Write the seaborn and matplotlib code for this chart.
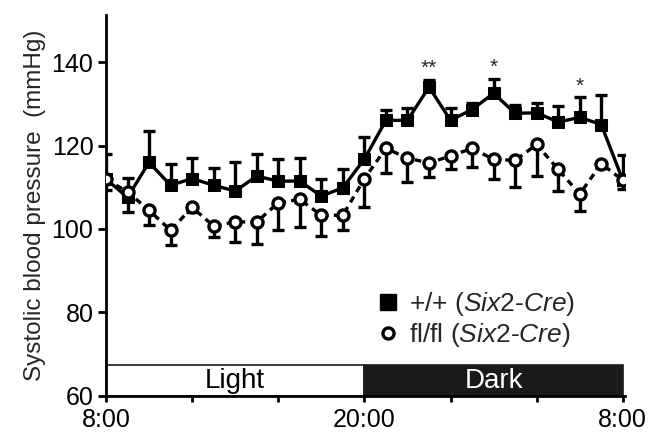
import numpy as np
import pandas as pd
import matplotlib
matplotlib.use("Agg")
import matplotlib.pyplot as plt
from matplotlib.patches import Rectangle
from matplotlib.lines import Line2D
import seaborn as sns

# ---- data ----
hours = list(range(25))
wt_mean = [112, 107.6, 116, 110.5, 112.1, 110.5, 109.1, 112.7, 111.5, 111.5, 107.9, 109.9,
           116.8, 126.1, 126.1, 134.1, 126.1, 128.7, 132.6, 127.8, 127.9, 125.7, 126.8, 125.1, 111.7]
wt_err = [6, 4.7, 7.5, 5, 5, 4.2, 7, 5.4, 5.2, 5.5, 4.2, 4.6,
          5.2, 2.6, 2.9, 1.6, 3, 1.6, 3.4, 2.1, 2.3, 3.8, 4.8, 7.2, 6]
ko_mean = [112, 108.9, 104.5, 99.7, 105.2, 100.7, 101.7, 101.7, 106.3, 107.1, 103.3, 103.3,
           112.1, 119.4, 117, 115.9, 117.5, 119.4, 116.7, 116.5, 120.3, 114.3, 108.4, 115.7, 111.7]
ko_err = [2.7, 4.8, 3.5, 3.6, 1, 2.6, 4.8, 5.2, 6.6, 6.6, 5, 3.6,
          6.8, 5.9, 5.7, 3.4, 3.2, 4.5, 4.8, 6.4, 7.6, 5.2, 4, 1, 2.2]
sig_hours = [15, 18, 22]
sig_labels = ["**", "*", "*"]
periods = ["Light", "Dark"]
period_start = [0, 12]
period_end = [12, 24]
xtick_major = [0, 12, 24]
xtick_labels = ["8:00", "20:00", "8:00"]
xtick_minor = [4, 8, 16, 20]
yticks = [60, 80, 100, 120, 140]

df = pd.DataFrame({"hour": hours, "wt": wt_mean, "ko": ko_mean})

sns.set_style("ticks")
plt.rcParams["font.family"] = ["Liberation Sans", "DejaVu Sans"]
plt.rcParams["mathtext.fontset"] = "custom"
plt.rcParams["mathtext.rm"] = "Liberation Sans"
plt.rcParams["mathtext.it"] = "Liberation Sans:italic"

fig = plt.figure(figsize=(6.51, 4.34), dpi=100)
ax = fig.add_axes([0.1628, 0.0887, 0.7972, 0.8767])

FS_TICK = 18
FS_LAB = 17.5
FS_LEG = 19
FS_BAND = 20

# error bars (one-sided)
zeros = np.zeros(len(hours))
ax.errorbar(hours, wt_mean, yerr=[zeros, wt_err], fmt="none", ecolor="black",
            elinewidth=2.4, capsize=4, capthick=2.4, zorder=2)
ax.errorbar(hours, ko_mean, yerr=[ko_err, zeros], fmt="none", ecolor="black",
            elinewidth=2.4, capsize=4, capthick=2.4, zorder=2)

sns.lineplot(data=df, x="hour", y="wt", ax=ax, color="black", linewidth=2.4,
             marker="s", markersize=9, markerfacecolor="black", markeredgecolor="black",
             zorder=3)
sns.lineplot(data=df, x="hour", y="ko", ax=ax, color="black", linewidth=2.4,
             linestyle=(0, (2.0, 1.6)), marker="o", markersize=8, markerfacecolor="white",
             markeredgecolor="black", markeredgewidth=2.4, zorder=4)

# significance stars
for h, lab in zip(sig_hours, sig_labels):
    ax.text(h, wt_mean[h] + wt_err[h] + 0.5, lab, ha="center", va="bottom", fontsize=15)

# light / dark bar
band_top = 67.4
for name, s, e in zip(periods, period_start, period_end):
    fc = "white" if name == "Light" else "#1a1a1a"
    tc = "black" if name == "Light" else "white"
    ax.add_patch(Rectangle((s, 60), e - s, band_top - 60, facecolor=fc,
                           edgecolor="#1a1a1a", linewidth=1.2, zorder=1, clip_on=False))
    ax.text((s + e) / 2, (60 + band_top) / 2 - 0.2, name, ha="center", va="center",
            fontsize=FS_BAND, color=tc, zorder=2)

ax.set_xlim(0, 24.1)
ax.set_ylim(60, 151.4)
ax.set_xticks(xtick_major)
ax.set_xticklabels(xtick_labels, fontsize=FS_TICK)
ax.set_xticks(xtick_minor, minor=True)
ax.set_yticks(yticks)
ax.set_yticklabels([str(v) for v in yticks], fontsize=FS_TICK)
ax.tick_params(axis="both", which="both", direction="out", width=2, colors="black")
ax.tick_params(axis="y", which="major", length=6, pad=3)
ax.tick_params(axis="x", which="both", length=4, pad=5)
for sp in ["left", "bottom"]:
    ax.spines[sp].set_linewidth(2)
    ax.spines[sp].set_color("black")
sns.despine(ax=ax)
ax.set_xlabel("")
ax.set_ylabel("Systolic blood pressure  (mmHg)", fontsize=FS_LAB, labelpad=4)

handles = [
    Line2D([], [], linestyle="none", marker="s", markersize=11, markerfacecolor="black",
           markeredgecolor="black"),
    Line2D([], [], linestyle="none", marker="o", markersize=8, markerfacecolor="white",
           markeredgecolor="black", markeredgewidth=2.4),
]
labels = ["+/+ ($\\mathit{Six2}$-$\\mathit{Cre}$)", "fl/fl ($\\mathit{Six2}$-$\\mathit{Cre}$)"]
ax.legend(handles, labels, loc="center left", bbox_to_anchor=(0.518, 0.2), frameon=False,
          fontsize=FS_LEG, handlelength=1.0, handletextpad=0.3, labelspacing=0.12,
          borderpad=0, borderaxespad=0)

fig.savefig("out.png", dpi=100)
